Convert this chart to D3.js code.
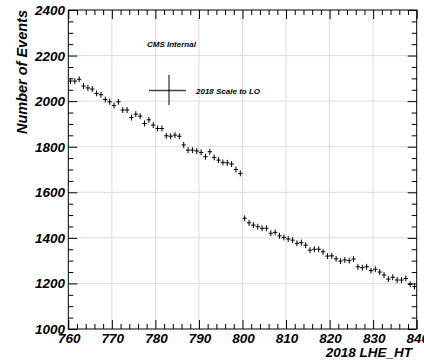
<!DOCTYPE html>
<html><head><meta charset="utf-8">
<script src="https://cdn.jsdelivr.net/npm/d3@7"></script>
<style>
html,body{margin:0;padding:0;background:#fff;}
svg{display:block;}
text{font-family:"Liberation Sans",Arial,Helvetica,sans-serif;font-weight:bold;font-style:italic;fill:#000;}
</style></head>
<body>
<script>
// Bin lower edges: 760..839 (width 1)
const binStart = 760;
const binWidth = 1;
const counts = [
 2088,2088,2096,2066,2058,2053,2034,2028,2007,1997,
 1981,1997,1961,1961,1928,1943,1934,1902,1918,1895,
 1880,1880,1848,1846,1851,1846,1808,1785,1785,1781,
 1775,1756,1778,1753,1741,1731,1729,1724,1700,1683,
 1486,1466,1456,1449,1442,1442,1420,1424,1409,1402,
 1395,1390,1376,1379,1368,1346,1350,1350,1339,1320,
 1321,1308,1298,1303,1300,1307,1273,1269,1273,1256,
 1262,1250,1237,1219,1227,1215,1215,1222,1196,1186
];
const errorHalf = 13;
const xTicks = [760,770,780,790,800,810,820,830,840];
const yTicks = [1000,1200,1400,1600,1800,2000,2200,2400];
const xDomain = [760,840];
const yDomain = [1000,2400];
const title = "CMS Internal";
const legendLabel = "2018 Scale to LO";
const xTitle = "2018 LHE_HT";
const yTitle = "Number of Events";

const W = 424, H = 362;
const L = 68.3, R = 416.7, T = 10, B = 329;
const svg = d3.select("body").append("svg").attr("width",W).attr("height",H);

const x = d3.scaleLinear().domain(xDomain).range([L,R]);
const y = d3.scaleLinear().domain(yDomain).range([B,T]);

// grid
const g = svg.append("g");
g.selectAll("line.gx").data(xTicks.slice(1,-1)).enter().append("line")
 .attr("x1",d=>x(d)).attr("x2",d=>x(d)).attr("y1",T).attr("y2",B)
 .attr("stroke","#dcdcdc").attr("stroke-width",1);
g.selectAll("line.gy").data(yTicks.slice(1,-1)).enter().append("line")
 .attr("x1",L).attr("x2",R).attr("y1",d=>y(d)).attr("y2",d=>y(d))
 .attr("stroke","#dcdcdc").attr("stroke-width",1);

// axes with ticks (major + minor)
const xMinor = d3.range(760,841,2).filter(v=>v%10!==0);
const yMinor = d3.range(1000,2401,50).filter(v=>v%200!==0);
function tickAxis(axisFn, scale, major, minor, pos){
  const a = svg.append("g").attr("transform",pos);
  a.call(axisFn(scale).tickValues(major).tickSize(9).tickFormat(""));
  const b = svg.append("g").attr("transform",pos);
  b.call(axisFn(scale).tickValues(minor).tickSize(5).tickFormat(""));
  [a,b].forEach(s=>{s.select(".domain").remove(); s.selectAll("line").attr("stroke","#000");});
}
tickAxis(d3.axisTop, x, xTicks, xMinor, `translate(0,${B})`);
tickAxis(d3.axisBottom, x, xTicks, xMinor, `translate(0,${T})`);
tickAxis(d3.axisRight, y, yTicks, yMinor, `translate(${L},0)`);
tickAxis(d3.axisLeft, y, yTicks, yMinor, `translate(${R},0)`);

// frame
svg.append("rect").attr("x",L).attr("y",T).attr("width",R-L).attr("height",B-T)
 .attr("fill","none").attr("stroke","#000").attr("stroke-width",1);

// tick labels
svg.append("g").selectAll("text").data(xTicks).enter().append("text")
 .attr("x",d=>x(d)+1).attr("y",343).attr("text-anchor","middle")
 .attr("font-size",13.5).text(d=>d);
svg.append("g").selectAll("text").data(yTicks).enter().append("text")
 .attr("x",65).attr("y",d=>y(d)+5).attr("text-anchor","end")
 .attr("font-size",13.5).text(d=>d);

// axis titles
svg.append("text").attr("x",412).attr("y",357).attr("text-anchor","end")
 .attr("font-size",13.5).text(xTitle);
svg.append("text").attr("transform",`translate(27,${T}) rotate(-90)`)
 .attr("text-anchor","end").attr("font-size",14.5).text(yTitle);

// data markers
const pts = svg.append("g").attr("stroke","#000").attr("stroke-width",1);
counts.forEach((c,i)=>{
  const lo = binStart + i*binWidth, hi = lo + binWidth, mid = lo + binWidth/2;
  pts.append("line").attr("x1",x(lo)).attr("x2",x(hi)).attr("y1",y(c)).attr("y2",y(c));
  pts.append("line").attr("x1",x(mid)).attr("x2",x(mid)).attr("y1",y(c-errorHalf)).attr("y2",y(c+errorHalf));
});

// text annotations
svg.append("text").attr("x",147).attr("y",47).attr("font-size",8).text(title);
svg.append("line").attr("x1",149).attr("x2",186).attr("y1",90.5).attr("y2",90.5).attr("stroke","#444").attr("stroke-width",1.3);
svg.append("line").attr("x1",169).attr("x2",169).attr("y1",75).attr("y2",105).attr("stroke","#000").attr("stroke-width",1);
svg.append("text").attr("x",196).attr("y",94).attr("font-size",8).text(legendLabel);
</script>
</body></html>
